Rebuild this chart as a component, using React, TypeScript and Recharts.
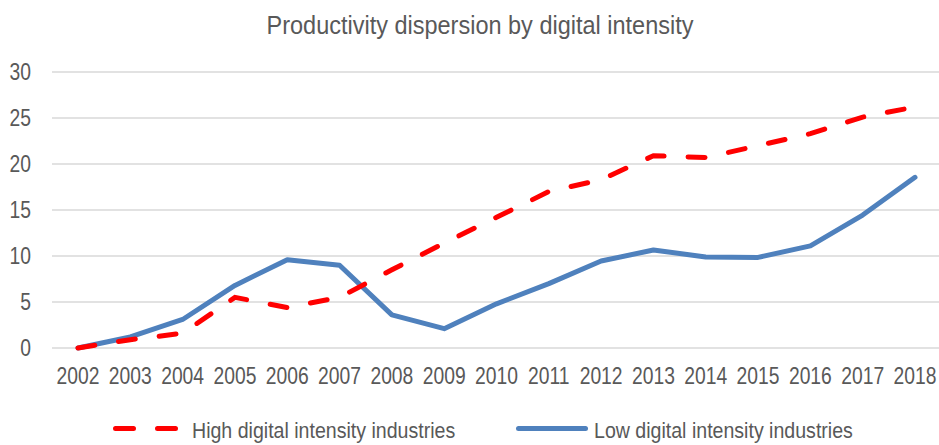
import React from "react";
import { CartesianGrid, Legend, Line, LineChart, XAxis, YAxis } from "recharts";

const years = [
  "2002", "2003", "2004", "2005", "2006", "2007", "2008", "2009", "2010",
  "2011", "2012", "2013", "2014", "2015", "2016", "2017", "2018",
];
const highDigital = [
  0, 0.9, 1.6, 5.5, 4.4, 5.5, 8.5, 11.4, 14.2, 17.0, 18.3, 20.9, 20.7, 22.0,
  23.3, 25.1, 26.2,
];
const lowDigital = [
  0, 1.2, 3.1, 6.8, 9.6, 9.0, 3.6, 2.1, 4.8, 7.0, 9.45, 10.65, 9.9, 9.85,
  11.1, 14.45, 18.55,
];
const yTicks = [0, 5, 10, 15, 20, 25, 30];

const data = years.map((year, i) => ({
  year,
  high: highDigital[i],
  low: lowDigital[i],
}));

const FONT = "'Liberation Sans', Arial, sans-serif";
const TEXT = "#595959";
const RED = "#ff0000";
const BLUE = "#4f81bd";

// narrow-ish font: regular sans squeezed horizontally
function XTick({ x, y, payload }: any) {
  return (
    <text
      transform={`translate(${x},${y}) scale(0.84,1)`}
      textAnchor="middle"
      dy="0.71em"
      fontSize={23}
      fontFamily={FONT}
      fill={TEXT}
    >
      {payload.value}
    </text>
  );
}

function YTick({ x, y, payload }: any) {
  return (
    <text
      transform={`translate(${x},${y}) scale(0.84,1)`}
      textAnchor="end"
      dy="0.355em"
      fontSize={23}
      fontFamily={FONT}
      fill={TEXT}
    >
      {payload.value}
    </text>
  );
}

function ChartLegend() {
  return (
    <svg width={939} height={40} style={{ display: "block" }}>
      <line
        x1={115.5}
        y1={18.5}
        x2={175.5}
        y2={18.5}
        stroke={RED}
        strokeWidth={5}
        strokeLinecap="round"
        strokeDasharray="18 24"
      />
      <text
        transform="translate(192,28) scale(0.89,1)"
        fontSize={22}
        fontFamily={FONT}
        fill={TEXT}
      >
        High digital intensity industries
      </text>
      <line
        x1={518.5}
        y1={18.5}
        x2={585.5}
        y2={18.5}
        stroke={BLUE}
        strokeWidth={5}
        strokeLinecap="round"
      />
      <text
        transform="translate(594,28) scale(0.89,1)"
        fontSize={22}
        fontFamily={FONT}
        fill={TEXT}
      >
        Low digital intensity industries
      </text>
    </svg>
  );
}

export default function App() {
  return (
    <div
      style={{
        position: "absolute",
        left: 0,
        top: 0,
        width: 939,
        height: 445,
        background: "#ffffff",
      }}
    >
      <svg
        width={939}
        height={50}
        style={{ position: "absolute", left: 0, top: 0 }}
      >
        <text
          transform="translate(480,34) scale(0.94,1)"
          textAnchor="middle"
          fontSize={25}
          fontFamily={FONT}
          fill={TEXT}
        >
          Productivity dispersion by digital intensity
        </text>
      </svg>
      <LineChart
        width={939}
        height={445}
        data={data}
        margin={{ top: 72, right: 0, left: 0, bottom: 12 }}
      >
        <CartesianGrid vertical={false} stroke="#d9d9d9" strokeWidth={1.5} />
        <XAxis
          dataKey="year"
          axisLine={false}
          tickLine={false}
          tickSize={0}
          tickMargin={20}
          height={45}
          padding={{ left: 26, right: 24 }}
          interval={0}
          tick={<XTick />}
        />
        <YAxis
          domain={[0, 30]}
          ticks={yTicks}
          axisLine={false}
          tickLine={false}
          tickSize={0}
          tickMargin={21}
          width={52}
          tick={<YTick />}
        />
        <Legend
          verticalAlign="bottom"
          height={40}
          wrapperStyle={{ left: 0, top: 410, width: 939 }}
          content={<ChartLegend />}
        />
        <Line
          dataKey="low"
          stroke={BLUE}
          strokeWidth={5}
          strokeLinejoin="round"
          strokeLinecap="round"
          dot={false}
          isAnimationActive={false}
        />
        <Line
          dataKey="high"
          stroke={RED}
          strokeWidth={5}
          strokeDasharray="17 24"
          strokeLinecap="round"
          dot={false}
          isAnimationActive={false}
        />
      </LineChart>
    </div>
  );
}
